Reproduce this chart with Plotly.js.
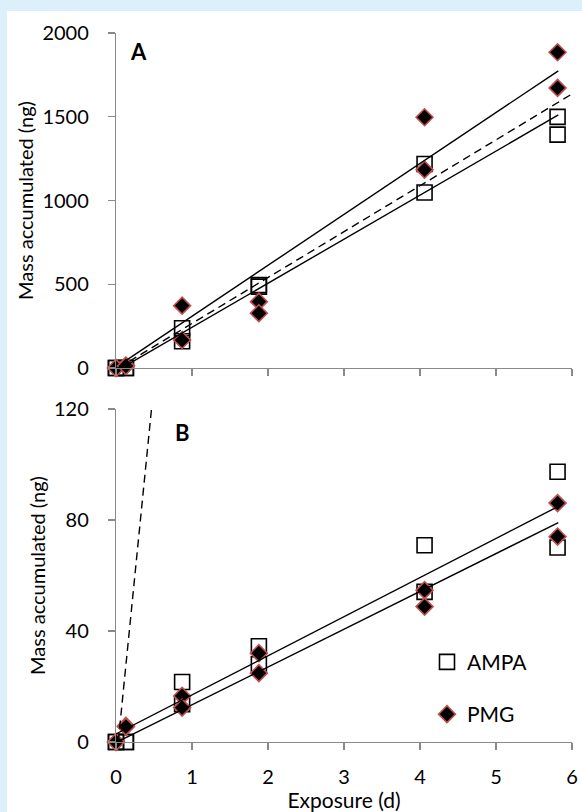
<!DOCTYPE html>
<html>
<head>
<meta charset="utf-8">
<script src="https://cdn.plot.ly/plotly-3.0.1.min.js"></script>
<style>
  html, body { margin: 0; padding: 0; background: #dcf0fb; width: 582px; height: 812px; overflow: hidden; }
  #chart { position: absolute; left: 7px; top: 11px; width: 575px; height: 801px; background: #ffffff; }
</style>
</head>
<body>
<div id="chart"></div>
<script>
// Exposure times (d)
const exposure = [0, 0.13, 0.87, 1.88, 4.06, 5.81];

// Panel A: mass accumulated (ng), two replicates per time
const A_AMPA_rep1 = [0, 0, 237, 495, 1218, 1499];
const A_AMPA_rep2 = [0, 0, 160, 486, 1048, 1393];
const A_PMG_rep1  = [0, 15, 372, 396, 1497, 1885];
const A_PMG_rep2  = [0, 12, 167, 327, 1184, 1672];

// Panel B: mass accumulated (ng)
const B_AMPA_rep1 = [0, 0, 21.6, 34.5, 70.9, 97.4];
const B_AMPA_rep2 = [0, 0, 13.6, 28.0, 54.1, 70.1];
const B_PMG_rep1  = [0, 5.8, 16.6, 32.0, 54.7, 86.1];
const B_PMG_rep2  = [0, 5.5, 12.4, 24.8, 48.8, 74.0];

// Linear fits: [intercept, slope], and x-span [start, end]
const fitA_AMPA = [-20, 263];
const fitA_PMG  = [5, 304];
const fitA_span = [0.1, 5.82];
const fitB_AMPA = [2.9, 14.09];
const fitB_PMG  = [-0.2, 13.62];
const fitB_span = [0, 5.82];
// Dashed reference line (same in both panels)
const refLine = [-8, 274];
const refSpan = [0.03, 6];

const yTicksA = [0, 500, 1000, 1500, 2000];
const yTicksB = [0, 40, 80, 120];
const xTicks = [0, 1, 2, 3, 4, 5, 6];

function dup(a) { return a.concat(a); }
function lineY(fit, span) { return span.map(x => fit[0] + fit[1] * x); }

const FONT = 'Lato, "Open Sans", sans-serif';
const squareMarker = { symbol: 'square', size: 15, color: 'rgba(0,0,0,0)', line: { color: '#000000', width: 1.6 } };
const diamondMarker = { symbol: 'diamond', size: 13, color: '#000000', line: { color: '#c0504d', width: 1.6 } };

const traces = [
  // Panel A
  { x: dup(exposure), y: A_AMPA_rep1.concat(A_AMPA_rep2), xaxis: 'x', yaxis: 'y', mode: 'markers',
    marker: squareMarker, name: 'AMPA', showlegend: false, cliponaxis: false },
  { x: dup(exposure), y: A_PMG_rep1.concat(A_PMG_rep2), xaxis: 'x', yaxis: 'y', mode: 'markers',
    marker: diamondMarker, name: 'PMG', showlegend: false, cliponaxis: false },
  { x: fitA_span, y: lineY(fitA_PMG, fitA_span), xaxis: 'x', yaxis: 'y', mode: 'lines',
    line: { color: '#000', width: 1.4 }, showlegend: false, hoverinfo: 'skip' },
  { x: fitA_span, y: lineY(fitA_AMPA, fitA_span), xaxis: 'x', yaxis: 'y', mode: 'lines',
    line: { color: '#000', width: 1.4 }, showlegend: false, hoverinfo: 'skip' },
  { x: refSpan, y: lineY(refLine, refSpan), xaxis: 'x', yaxis: 'y', mode: 'lines',
    line: { color: '#000', width: 1.4, dash: '8px,5px' }, showlegend: false, hoverinfo: 'skip' },
  // Panel B
  { x: dup(exposure), y: B_AMPA_rep1.concat(B_AMPA_rep2), xaxis: 'x2', yaxis: 'y2', mode: 'markers',
    marker: squareMarker, name: 'AMPA', legendgroup: 'a', showlegend: true, cliponaxis: false },
  { x: dup(exposure), y: B_PMG_rep1.concat(B_PMG_rep2), xaxis: 'x2', yaxis: 'y2', mode: 'markers',
    marker: diamondMarker, name: 'PMG', legendgroup: 'b', showlegend: true, cliponaxis: false },
  { x: fitB_span, y: lineY(fitB_AMPA, fitB_span), xaxis: 'x2', yaxis: 'y2', mode: 'lines',
    line: { color: '#000', width: 1.4 }, showlegend: false, hoverinfo: 'skip' },
  { x: fitB_span, y: lineY(fitB_PMG, fitB_span), xaxis: 'x2', yaxis: 'y2', mode: 'lines',
    line: { color: '#000', width: 1.4 }, showlegend: false, hoverinfo: 'skip' },
  { x: refSpan, y: lineY(refLine, refSpan), xaxis: 'x2', yaxis: 'y2', mode: 'lines',
    line: { color: '#000', width: 1.4, dash: '8px,5px' }, showlegend: false, hoverinfo: 'skip' }
];

const axisCommon = {
  showline: true, linecolor: '#898989', linewidth: 1.2,
  ticks: 'outside', ticklen: 7, tickcolor: '#898989', tickwidth: 1.2,
  showgrid: false, zeroline: false,
  tickfont: { family: FONT, size: 20, color: '#000' }
};

const layout = {
  width: 575, height: 801,
  margin: { l: 109, r: 10, t: 22, b: 70 },
  paper_bgcolor: '#ffffff', plot_bgcolor: 'rgba(0,0,0,0)',
  font: { family: FONT, size: 20, color: '#000' },
  showlegend: true,
  legend: {
    x: 0.682, xanchor: 'left', y: 0.1415, yanchor: 'top',
    traceorder: 'grouped', tracegroupgap: 22, bgcolor: 'rgba(0,0,0,0)',
    font: { family: FONT, size: 21, color: '#000' }, itemsizing: 'trace'
  },
  xaxis: Object.assign({}, axisCommon, {
    domain: [0, 1], anchor: 'y', range: [0, 6], tickvals: xTicks, showticklabels: false
  }),
  yaxis: Object.assign({}, axisCommon, {
    domain: [0.5275, 1], anchor: 'x', range: [0, 2000], tickvals: yTicksA,
    ticklabelstandoff: 15,
    title: { text: 'Mass accumulated (ng)', font: { family: FONT, size: 20, color: '#000' }, standoff: 3 }
  }),
  xaxis2: Object.assign({}, axisCommon, {
    domain: [0, 1], anchor: 'y2', range: [0, 6], tickvals: xTicks, ticklabelstandoff: 10,
    title: { text: 'Exposure (d)', font: { family: FONT, size: 21, color: '#000' }, standoff: 4 }
  }),
  yaxis2: Object.assign({}, axisCommon, {
    domain: [0, 0.4697], anchor: 'x2', range: [0, 120], tickvals: yTicksB,
    ticklabelstandoff: 15,
    title: { text: 'Mass accumulated (ng)', font: { family: FONT, size: 20, color: '#000' }, standoff: 3 }
  }),
  annotations: [
    { text: '<b>A</b>', xref: 'x', yref: 'y', x: 0.30, y: 1889, showarrow: false,
      font: { family: FONT, size: 22, color: '#000' } },
    { text: '<b>B</b>', xref: 'x2', yref: 'y2', x: 0.88, y: 111.7, showarrow: false,
      font: { family: FONT, size: 22, color: '#000' } }
  ]
};

Plotly.newPlot('chart', traces, layout, { staticPlot: true, displayModeBar: false });
</script>
</body>
</html>
